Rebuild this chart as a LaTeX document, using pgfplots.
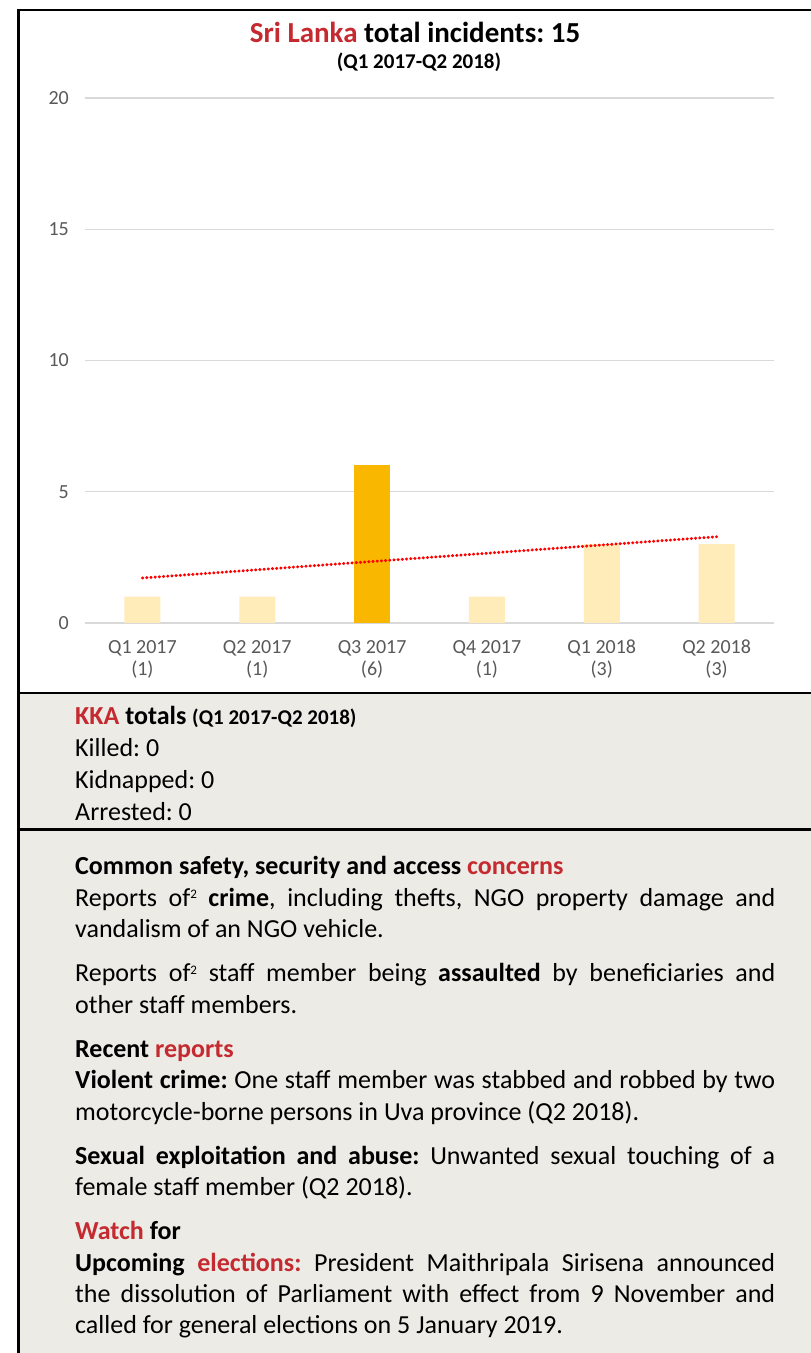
\documentclass[border=0pt]{standalone}
\usepackage{pgfplots}
\pgfplotsset{compat=1.18}
\usepackage{fontspec}
\setmainfont{Carlito}
\definecolor{srired}{HTML}{C42A30}
\definecolor{lightbar}{HTML}{FFECB9}
\definecolor{darkbar}{HTML}{F9B700}
\definecolor{panelgray}{HTML}{ECEBE5}
\definecolor{gridgray}{HTML}{D9D9D9}
\definecolor{ticktxt}{HTML}{595959}
\newcommand{\suptwo}{{\fontsize{13}{13}\selectfont\raisebox{7.5pt}{2}}}
\frenchspacing
\begin{document}
\begin{tikzpicture}[x=1pt,y=1pt]
\fill[white] (0,0) rectangle (811,1353);
\useasboundingbox (0,0) rectangle (811,1353);
\fill[panelgray] (19,0) rectangle (811,661);
\draw[line width=2.5pt] (17.3,1343) -- (811,1343);
\draw[line width=3pt] (18.7,1344.3) -- (18.7,0);
\draw[line width=2.5pt] (17.3,660.2) -- (811,660.2);
\draw[line width=2.5pt] (17.3,523.5) -- (811,523.5);
\begin{axis}[
  at={(85pt,730pt)}, anchor=south west,
  scale only axis, width=689pt, height=525pt,
  xmin=-0.5, xmax=5.5, ymin=0, ymax=20,
  ytick={0,5,10,15,20}, yticklabels={0,5,10,15,20},
  xtick={0,1,2,3,4,5},
  xticklabels={{Q1 2017\\(1)},{Q2 2017\\(1)},{Q3 2017\\(6)},{Q4 2017\\(1)},{Q1 2018\\(3)},{Q2 2018\\(3)}},
  ymajorgrids, grid style={gridgray, line width=1.2pt},
  axis line style={draw=none}, major tick length=0pt,
  ticklabel style={font=\fontsize{20}{22}\selectfont, text=ticktxt},
  yticklabel style={anchor=east, inner sep=0pt, xshift=-16pt},
  xticklabel style={anchor=north, inner sep=0pt, yshift=-17pt, align=center},
  clip=false,
]
\addplot[ybar, bar width=36pt, bar shift=0pt, fill=lightbar, draw=none] coordinates {(0,1) (1,1) (3,1) (4,3) (5,3)};
\addplot[ybar, bar width=36pt, bar shift=0pt, fill=darkbar, draw=none] coordinates {(2,6)};
\addplot[sharp plot, red, line width=3pt, line cap=round, dash pattern=on 0.4pt off 3.8pt, mark=none] coordinates {(0,1.714) (5,3.286)};
\end{axis}
\node[anchor=base, inner sep=0pt, font=\fontsize{29}{34}\selectfont\bfseries] at (415,1310) {\textcolor{srired}{Sri Lanka} total incidents: 15};
\node[anchor=base, inner sep=0pt, font=\fontsize{21}{24}\selectfont\bfseries] at (419,1284) {(Q1 2017-Q2 2018)};
\node[anchor=base west, inner sep=0pt] at (75,628) {\parbox[t]{700pt}{\fontsize{26}{32}\selectfont\setlength{\parindent}{0pt}%
\textbf{\textcolor{srired}{KKA} totals {\fontsize{21}{32}\selectfont(Q1 2017-Q2 2018)}}\\
Killed: 0\\
Kidnapped: 0\\
Arrested: 0}};
\node[anchor=base west, inner sep=0pt] at (75,478) {\parbox[t]{700pt}{\fontsize{26}{31.3}\selectfont\setlength{\parskip}{13pt}\setlength{\parindent}{0pt}\hyphenpenalty=10000\emergencystretch=20pt%
\textbf{Common safety, security and access \textcolor{srired}{concerns}}\\
Reports of\suptwo{} \textbf{crime}, including thefts, NGO property damage and\linebreak vandalism of an NGO vehicle.\par
Reports of\suptwo{} staff member being \textbf{assaulted} by beneficiaries and\linebreak other staff members.\par
\textbf{Recent \textcolor{srired}{reports}}\\
\textbf{Violent crime:} One staff member was stabbed and robbed by two\linebreak motorcycle-borne persons in Uva province (Q2 2018).\par
\textbf{Sexual exploitation and abuse:} Unwanted sexual touching of a\linebreak female staff member (Q2 2018).\par
\textbf{\textcolor{srired}{Watch} for}\\
\textbf{Upcoming \textcolor{srired}{elections:}} President Maithripala Sirisena announced\linebreak the dissolution of Parliament with effect from 9 November and\linebreak called for general  elections on 5 January 2019.}};
\end{tikzpicture}
\end{document}
